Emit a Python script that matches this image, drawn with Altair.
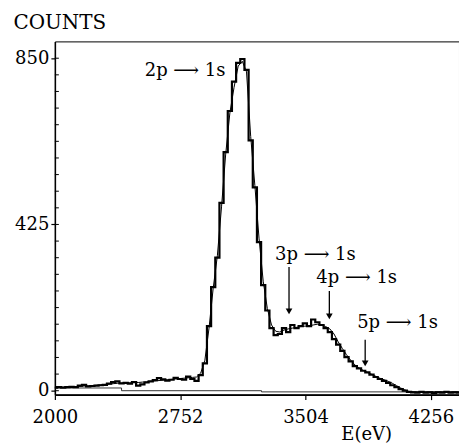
import altair as alt
import pandas as pd

# ---- data ----
energy = list(range(2000, 4426, 25))  # bin energies (eV)

counts = [
    8, 9, 8, 9, 10, 9, 13, 15, 11, 12,            # 2000-2225
    13, 14, 15, 18, 22, 24, 19, 20, 18, 22,       # 2250-2475
    13, 16, 21, 24, 27, 32, 29, 26, 28, 33,       # 2500-2725
    30, 28, 36, 30, 25, 40, 70, 165, 265, 340,    # 2750-2975
    480, 610, 715, 790, 838, 848, 820, 640, 520, 380,  # 3000-3225
    270, 205, 160, 142, 145, 160, 150, 168, 160, 165,  # 3250-3475
    172, 165, 182, 175, 168, 160, 150, 132, 118, 102,  # 3500-3725
    86, 75, 63, 57, 51, 47, 41, 35, 30, 25,            # 3750-3975
    20, 14, 9, 4, 0, -3, -4, -5, -3, -5,               # 4000-4225
    -4, -6, -4, -5, -3, -5, -4, -5                      # 4250-4425
]

fit = [
    8, 8, 9, 9, 10, 10, 11, 12, 12, 13,
    14, 15, 16, 17, 18, 19, 19, 20, 20, 21,
    21, 22, 23, 24, 25, 26, 27, 28, 29, 30,
    31, 32, 33, 34, 35, 45, 78, 160, 262, 345,
    470, 605, 710, 775, 830, 842, 815, 650, 525, 390,
    280, 210, 168, 152, 150, 155, 158, 160, 162, 164,
    165, 166, 168, 170, 168, 164, 158, 145, 125, 108,
    92, 78, 66, 58, 52, 47, 42, 37, 32, 28,
    24, 19, 13, 7, 2, -2, -3, -3, -3, -3,
    -3, -3, -3, -3, -3, -3, -3, -3
]

bg_energy = [2000, 2400, 2400, 3240, 3240, 4425]
bg_counts = [7, 7, 0, 0, -3, -3]

y_minor = [i * 42.5 for i in range(0, 21)]

ann_text = ["2p \u27f6 1s", "3p \u27f6 1s", "4p \u27f6 1s", "5p \u27f6 1s"]
ann_x = [2539, 3321, 3569, 3814]
ann_y = [804, 334, 276, 161]

arr_x = [3405, 3647, 3862]
arr_top = [316, 255, 130]
arr_tip = [194, 181, 61]

FONT = "DejaVu Serif"

# ---- tables ----
df = pd.DataFrame({"E": energy, "counts": counts, "fit": fit})
bg = pd.DataFrame({"E": bg_energy, "counts": bg_counts})
ticks = pd.DataFrame({"v": y_minor})
ann = pd.DataFrame({"t": ann_text, "E": ann_x, "c": ann_y})
arr = pd.DataFrame({"E": arr_x, "top": arr_top, "tip": arr_tip,
                    "head": [t + 9 for t in arr_tip]})

xs = alt.Scale(domain=[2000, 4425], nice=False, zero=False)
ys = alt.Scale(domain=[-10, 893], nice=False, zero=False)

xaxis = alt.Axis(values=[2000, 2752, 3504, 4256], format="d", grid=False,
                 tickSize=5, tickColor="black", tickWidth=1.2,
                 domainColor="black", domainWidth=1.8,
                 labelFont=FONT, labelFontSize=18, labelColor="black",
                 labelPadding=9, labelFlush=False, labelOverlap=False,
                 title="E(eV)", titleFont=FONT, titleFontSize=18,
                 titleFontWeight="normal", titleColor="black",
                 titleX=312, titleY=45, titleAlign="center",
                 titleBaseline="alphabetic")
yaxis = alt.Axis(values=[0, 425, 850], format="d", grid=False,
                 tickSize=4, tickColor="black", tickWidth=1.2,
                 domainColor="black", domainWidth=1.5,
                 labelFont=FONT, labelFontSize=18, labelColor="black",
                 labelPadding=2, labelFlush=False, labelOverlap=False,
                 title="COUNTS", titleFont=FONT, titleFontSize=20,
                 titleFontWeight="normal", titleColor="black",
                 titleAngle=0, titleX=-42, titleY=-13, titleAlign="left",
                 titleBaseline="alphabetic")

base_data = alt.Chart(df)

data_line = base_data.mark_line(interpolate="step", color="black",
                                strokeWidth=2.2).encode(
    x=alt.X("E:Q", scale=xs, axis=xaxis),
    y=alt.Y("counts:Q", scale=ys, axis=yaxis),
)

fit_line = base_data.mark_line(color="black", strokeWidth=1).encode(
    x=alt.X("E:Q", scale=xs),
    y=alt.Y("fit:Q", scale=ys),
)

bg_line = alt.Chart(bg).mark_line(color="#333333", strokeWidth=1).encode(
    x=alt.X("E:Q", scale=xs),
    y=alt.Y("counts:Q", scale=ys),
)

minor = alt.Chart(ticks).mark_rule(color="black", strokeWidth=1).encode(
    x=alt.value(0), x2=alt.value(4),
    y=alt.Y("v:Q", scale=ys),
)

labels = alt.Chart(ann).mark_text(font=FONT, fontSize=18, color="black",
                                  align="left", baseline="alphabetic").encode(
    x=alt.X("E:Q", scale=xs),
    y=alt.Y("c:Q", scale=ys),
    text="t:N",
)

arrow_shaft = alt.Chart(arr).mark_rule(color="black", strokeWidth=1.3).encode(
    x=alt.X("E:Q", scale=xs),
    y=alt.Y("top:Q", scale=ys),
    y2="head:Q",
)

arrow_head = alt.Chart(arr).mark_point(shape="triangle-down", filled=True,
                                       color="black", size=45, opacity=1).encode(
    x=alt.X("E:Q", scale=xs),
    y=alt.Y("head:Q", scale=ys),
)

chart = alt.layer(bg_line, fit_line, data_line, minor, arrow_shaft, arrow_head,
                  labels).properties(
    width=405, height=354,
    autosize=alt.AutoSizeParams(type="none"),
    padding={"left": 55, "top": 41, "right": 0, "bottom": 52},
    background="white",
).configure_view(stroke="black", strokeWidth=1)

chart.save("out.html", embed_options={"renderer": "svg", "actions": False})
